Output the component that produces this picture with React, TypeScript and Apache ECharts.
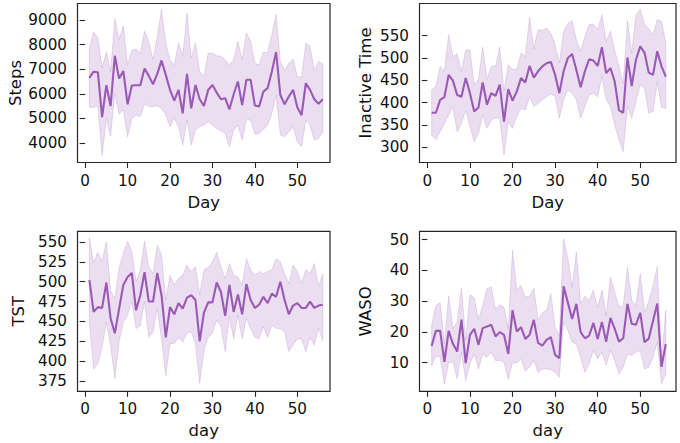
import React, { useEffect, useRef } from "react";
import * as echarts from "echarts";

const days = [
  1, 2, 3, 4, 5, 6, 7, 8, 9, 10, 11, 12, 13, 14, 15, 16, 17, 18, 19, 20,
  21, 22, 23, 24, 25, 26, 27, 28, 29, 30, 31, 32, 33, 34, 35, 36, 37, 38, 39, 40,
  41, 42, 43, 44, 45, 46, 47, 48, 49, 50, 51, 52, 53, 54, 55, 56,
];

const stepsMean = [6650, 6900, 6880, 5050, 6350, 5500, 7550, 6620, 6930, 5570, 6340, 6350, 6350, 7030, 6730, 6390, 6810, 7360, 6770, 6160, 5720, 6160, 5200, 6810, 5410, 6360, 5780, 5500, 6160, 6360, 6050, 5780, 5820, 5370, 5980, 6500, 5540, 6570, 6570, 5520, 5480, 6090, 6230, 6910, 7700, 5950, 5570, 5890, 6160, 5450, 5130, 6430, 6160, 5780, 5590, 5780];
const stepsUpper = [7890, 8520, 8280, 7050, 7700, 6910, 9050, 8210, 8780, 7180, 7770, 7830, 7660, 8550, 8140, 7390, 8350, 9440, 8070, 7390, 7180, 8070, 7530, 9300, 7460, 8070, 6910, 6700, 7660, 7660, 7550, 7530, 7390, 7180, 7390, 8140, 7390, 8480, 8140, 7250, 7180, 7690, 7690, 8410, 9230, 7320, 6950, 7250, 7420, 6700, 6670, 8070, 7940, 6950, 7320, 7220];
const stepsLower = [5450, 5450, 5500, 3480, 4970, 4280, 6020, 5180, 5340, 4250, 5000, 5130, 5070, 5590, 5480, 5480, 5500, 5410, 5130, 4660, 5000, 4660, 3910, 4930, 3910, 4520, 4660, 4720, 4860, 4720, 4590, 4490, 4380, 3840, 4520, 4720, 4110, 4930, 4930, 4350, 4380, 4550, 4720, 5200, 5950, 4320, 4250, 4450, 4660, 4040, 3840, 4930, 4720, 4110, 4180, 4450];

const inactiveMean = [377, 377, 406, 412, 462, 449, 417, 413, 455, 421, 380, 389, 445, 395, 421, 415, 440, 357, 430, 404, 425, 455, 445, 482, 456, 470, 481, 488, 491, 462, 421, 470, 500, 509, 473, 434, 470, 497, 494, 482, 524, 466, 477, 447, 383, 377, 501, 437, 496, 526, 512, 467, 462, 515, 481, 458];
const inactiveUpper = [428, 437, 481, 470, 552, 503, 509, 470, 518, 518, 440, 451, 524, 452, 481, 482, 524, 425, 485, 475, 475, 511, 503, 590, 520, 563, 562, 567, 556, 530, 488, 560, 577, 584, 541, 515, 548, 575, 575, 563, 597, 537, 560, 518, 481, 443, 584, 511, 597, 609, 575, 565, 552, 586, 582, 533];
const inactiveLower = [327, 317, 334, 353, 372, 389, 334, 353, 383, 346, 312, 331, 372, 342, 361, 365, 365, 282, 357, 342, 368, 387, 383, 413, 392, 398, 406, 413, 419, 413, 365, 406, 428, 421, 406, 365, 391, 417, 421, 413, 458, 406, 391, 350, 316, 290, 391, 365, 402, 440, 432, 376, 380, 447, 389, 387];

const tstMean = [502, 462, 468, 467, 499, 454, 435, 466, 496, 506, 511, 464, 483, 512, 475, 475, 511, 483, 430, 468, 459, 473, 466, 480, 483, 477, 425, 461, 474, 474, 499, 487, 457, 496, 462, 484, 459, 497, 477, 467, 471, 481, 473, 485, 481, 500, 477, 459, 470, 473, 467, 467, 475, 467, 470, 471];
const tstUpper = [555, 524, 537, 525, 550, 489, 479, 517, 536, 551, 538, 500, 515, 551, 519, 510, 546, 534, 477, 508, 496, 504, 508, 521, 513, 519, 484, 515, 518, 525, 537, 519, 504, 523, 508, 506, 496, 529, 515, 508, 513, 510, 513, 515, 529, 525, 510, 498, 521, 513, 498, 515, 510, 523, 494, 510];
const tstLower = [449, 390, 397, 418, 449, 420, 378, 424, 449, 458, 475, 441, 445, 475, 430, 437, 466, 428, 382, 422, 422, 430, 424, 435, 437, 422, 372, 414, 430, 435, 452, 443, 412, 456, 428, 458, 428, 454, 441, 430, 428, 443, 430, 445, 441, 441, 437, 412, 420, 428, 428, 412, 430, 420, 441, 426];

const wasoMean = [15.4, 20.3, 20.3, 10.2, 20.3, 16.1, 13.6, 24.0, 9.8, 19.0, 21.0, 15.8, 21.2, 21.7, 22.3, 18.5, 19.9, 19.0, 12.8, 27.0, 20.1, 21.5, 17.7, 19.0, 23.9, 16.4, 15.5, 17.4, 18.3, 12.5, 11.4, 34.8, 29.5, 24.2, 29.1, 19.9, 17.9, 18.8, 22.9, 17.7, 23.2, 16.8, 24.5, 21.0, 16.8, 17.9, 29.1, 22.6, 22.3, 26.2, 16.6, 17.8, 23.5, 29.2, 8.6, 16.0];
const wasoUpper = [22.1, 28.6, 29.5, 16.1, 31.6, 21.0, 23.2, 34.2, 17.2, 32.1, 31.0, 24.0, 28.6, 34.0, 34.6, 27.5, 28.8, 28.0, 21.0, 46.5, 33.5, 35.1, 31.3, 31.6, 34.2, 24.0, 26.2, 27.0, 32.4, 21.5, 18.8, 50.3, 43.8, 34.6, 46.0, 29.1, 31.6, 30.2, 33.5, 28.0, 33.5, 25.3, 37.8, 32.9, 28.0, 28.6, 40.8, 30.2, 28.8, 38.9, 26.4, 29.9, 35.1, 41.1, 10.5, 27.0];
const wasoLower = [9.0, 12.1, 11.7, 3.0, 10.1, 10.1, 4.7, 13.4, 4.1, 9.6, 12.8, 7.9, 12.8, 11.7, 13.4, 10.7, 10.7, 10.1, 4.5, 9.9, 9.9, 11.2, 7.2, 8.5, 10.7, 6.8, 7.9, 7.9, 7.7, 6.8, 5.2, 23.2, 20.4, 16.6, 16.1, 11.7, 6.8, 9.6, 13.9, 11.2, 13.4, 9.2, 13.9, 10.7, 6.3, 8.5, 12.8, 12.3, 13.4, 13.9, 7.9, 8.5, 11.7, 16.6, 3.2, 6.3];

const xTicks = [0, 10, 20, 30, 40, 50];
const stepsTicks = [4000, 5000, 6000, 7000, 8000, 9000];
const inactiveTicks = [300, 350, 400, 450, 500, 550];
const tstTicks = [375, 400, 425, 450, 475, 500, 525, 550];
const wasoTicks = [10, 20, 30, 40, 50];

const PURPLE = "#9b59b6";
const BAND = "rgba(155,89,182,0.2)";
const INK = "#111";
const FRAME = "#262626";
const FONT = "DejaVu Sans";
const TICK_FS = 15.2;
const NAME_FS = 16.5;

type Panel = {
  mean: number[];
  upper: number[];
  lower: number[];
  yName: string;
  xName: string;
  yTicks: number[];
  yMin: number;
  yMax: number;
  xMin: number;
  xMax: number;
  grid: { left: number; top: number; width: number; height: number };
  yNameGap: number;
};

const panels: Panel[] = [
  {
    mean: stepsMean, upper: stepsUpper, lower: stepsLower, yName: "Steps", xName: "Day",
    yTicks: stepsTicks, yMin: 3200, yMax: 9680, xMin: -1.8, xMax: 57.7,
    grid: { left: 77.5, top: 3.5, width: 252.5, height: 159 }, yNameGap: 51,
  },
  {
    mean: inactiveMean, upper: inactiveUpper, lower: inactiveLower, yName: "Inactive Time", xName: "Day",
    yTicks: inactiveTicks, yMin: 265.5, yMax: 622, xMin: -1.85, xMax: 58.4,
    grid: { left: 419.5, top: 3.5, width: 256.5, height: 159 }, yNameGap: 46,
  },
  {
    mean: tstMean, upper: tstUpper, lower: tstLower, yName: "TST", xName: "day",
    yTicks: tstTicks, yMin: 362, yMax: 563.5, xMin: -1.8, xMax: 57.7,
    grid: { left: 77.5, top: 231.3, width: 252.5, height: 160 }, yNameGap: 51,
  },
  {
    mean: wasoMean, upper: wasoUpper, lower: wasoLower, yName: "WASO", xName: "day",
    yTicks: wasoTicks, yMin: 0.65, yMax: 52.7, xMin: -1.85, xMax: 58.4,
    grid: { left: 419.5, top: 231.3, width: 256.5, height: 160 }, yNameGap: 46,
  },
];

const plain = (v: number) => String(v);

function buildOption() {
  const grid: any[] = [];
  const xAxis: any[] = [];
  const yAxis: any[] = [];
  const series: any[] = [];
  panels.forEach((p, i) => {
    grid.push({ ...p.grid, show: true, borderColor: FRAME, borderWidth: 1.2, containLabel: false });
    xAxis.push({
      type: "value", gridIndex: i, min: p.xMin, max: p.xMax,
      axisLine: { show: false }, splitLine: { show: false },
      axisTick: { show: true, length: 5.5, customValues: xTicks, lineStyle: { color: FRAME, width: 1.1 } },
      axisLabel: { customValues: xTicks, formatter: plain, fontSize: TICK_FS, color: INK, fontFamily: FONT, margin: 10.5 },
      name: p.xName, nameLocation: "middle", nameGap: 31,
      nameTextStyle: { fontSize: NAME_FS, color: INK, fontFamily: FONT },
    });
    yAxis.push({
      type: "value", gridIndex: i, min: p.yMin, max: p.yMax,
      axisLine: { show: false }, splitLine: { show: false },
      axisTick: { show: true, length: 5.5, customValues: p.yTicks, lineStyle: { color: FRAME, width: 1.1 } },
      axisLabel: { customValues: p.yTicks, formatter: plain, fontSize: TICK_FS, color: INK, fontFamily: FONT, margin: 10.5 },
      name: p.yName, nameLocation: "middle", nameGap: p.yNameGap, nameRotate: 90,
      nameTextStyle: { fontSize: NAME_FS, color: INK, fontFamily: FONT },
    });
    const upper = p.upper;
    const lower = p.lower;
    series.push({
      type: "custom", xAxisIndex: i, yAxisIndex: i, silent: true, z: 1,
      data: [[days[0], lower[0]]],
      renderItem: (params: any, api: any) => {
        const pts: number[][] = [];
        for (let k = 0; k < days.length; k++) pts.push(api.coord([days[k], upper[k]]));
        for (let k = days.length - 1; k >= 0; k--) pts.push(api.coord([days[k], lower[k]]));
        return {
          type: "polygon",
          shape: { points: pts },
          style: { fill: BAND, stroke: BAND, lineWidth: 1 },
        };
      },
    });
    series.push({
      type: "line", xAxisIndex: i, yAxisIndex: i, z: 3,
      data: days.map((d, k) => [d, p.mean[k]]),
      showSymbol: false, symbol: "none",
      lineStyle: { color: PURPLE, width: 2.1 },
      itemStyle: { color: PURPLE },
    });
  });
  return { animation: false, backgroundColor: "#ffffff", grid, xAxis, yAxis, series };
}

export default function App() {
  const ref = useRef<HTMLDivElement>(null);
  useEffect(() => {
    if (!ref.current) return;
    const chart = echarts.init(ref.current, null, { renderer: "svg" });
    chart.setOption(buildOption() as any);
    return () => chart.dispose();
  }, []);
  return (
    <div
      ref={ref}
      style={{ position: "fixed", left: 0, top: 0, width: 680, height: 443, background: "#fff" }}
    />
  );
}
